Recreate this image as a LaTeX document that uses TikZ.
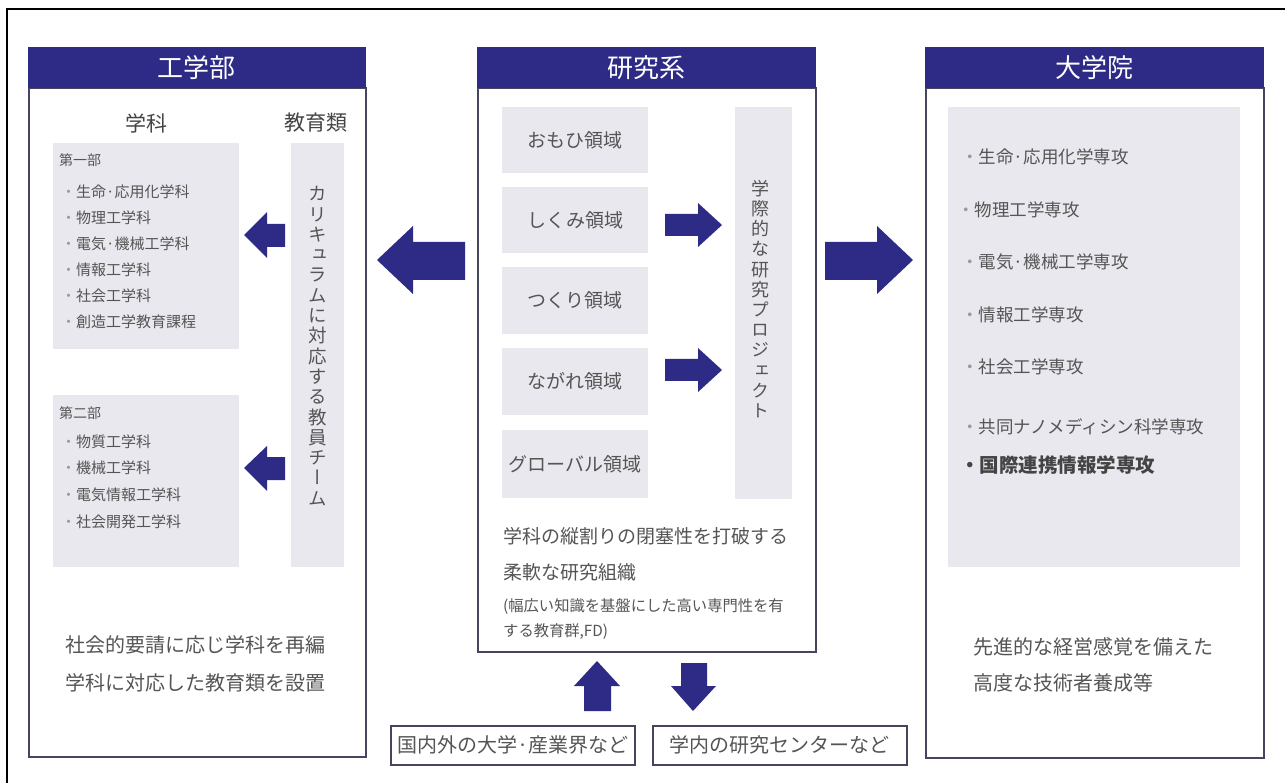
\documentclass[tikz,border=0pt]{standalone}
\usepackage{fontspec}
\setmainfont{Noto Sans CJK JP}
\newfontfamily\vjp[RawFeature=+vert]{Noto Sans CJK JP}
\definecolor{navy}{HTML}{2E2B87}
\definecolor{boxgray}{HTML}{E8E8EE}
\definecolor{txt}{HTML}{555555}
\definecolor{dtxt}{HTML}{444444}
\definecolor{bul}{HTML}{9A9A9A}
\definecolor{edge}{HTML}{45455F}
\newcommand\bl{{\color{bul}・}}
\tikzset{
  hdr/.style={fill=navy, draw=navy, text=white, font=\fontsize{26}{30}\selectfont, minimum height=40pt, anchor=north west, inner sep=0pt},
  panel/.style={draw=edge, line width=1.8pt, fill=white, anchor=north west, inner sep=0pt},
  gbox/.style={fill=boxgray, anchor=north west, inner sep=0pt},
  lab/.style={text=txt, inner sep=0pt},
  item/.style={text=txt, inner sep=0pt, anchor=west, font=\fontsize{15}{18}\selectfont},
  ritem/.style={text=txt, inner sep=0pt, anchor=west, font=\fontsize{17.5}{20}\selectfont},
  big/.style={text=txt, inner sep=0pt, font=\fontsize{20}{24}\selectfont},
  dom/.style={text=txt, inner sep=0pt, font=\fontsize{19}{22}\selectfont},
  vert/.style={text=txt, inner sep=0pt, align=center},
  blk/.style={fill=navy},
  extbox/.style={draw=edge, line width=1.6pt, fill=white, anchor=north west, inner sep=0pt, text=txt, font=\fontsize{20}{24}\selectfont}
}
\begin{document}
\begin{tikzpicture}[x=1pt, y=-1pt]
\useasboundingbox (0,0) rectangle (1285,783);
\fill[white] (0,0) rectangle (1285,783);
% outer frame (top and left only visible)
\draw[line width=2pt, black] (7,783) -- (7,9.5) -- (1285,9.5);

% ---------- left panel ----------
\node[panel, minimum width=337pt, minimum height=669pt] (pL) at (28,87) {};
\node[hdr, minimum width=337pt] (hL) at (28,47) {工学部};
\node[lab, text=dtxt, font=\fontsize{21}{24}\selectfont] (tGakka) at (146,123) {学科};
\node[lab, text=dtxt, font=\fontsize{21}{24}\selectfont] (tKyoiku) at (316,123) {教育類};
\node[gbox, minimum width=186pt, minimum height=206pt] (g1) at (53,143) {};
\node[gbox, minimum width=53pt, minimum height=424pt] (gcol) at (291,143) {};
\node[gbox, minimum width=186pt, minimum height=172pt] (g2) at (53,395) {};
\node[item, font=\fontsize{14}{16}\selectfont] (d1) at (59,160) {第一部};
\node[item] (d1a) at (61,192) {\bl 生命·応用化学科};
\node[item] (d1b) at (61,218) {\bl 物理工学科};
\node[item] (d1c) at (61,244) {\bl 電気·機械工学科};
\node[item] (d1d) at (61,270) {\bl 情報工学科};
\node[item] (d1e) at (61,296) {\bl 社会工学科};
\node[item] (d1f) at (61,322) {\bl 創造工学教育課程};
\node[item, font=\fontsize{14}{16}\selectfont] (d2) at (59,413) {第二部};
\node[item] (d2a) at (61,442) {\bl 物質工学科};
\node[item] (d2b) at (61,468) {\bl 機械工学科};
\node[item] (d2c) at (61,495) {\bl 電気情報工学科};
\node[item] (d2d) at (61,522) {\bl 社会開発工学科};
\node[vert, font=\vjp\fontsize{18.5}{20.3}\selectfont] (vcur) at (318,346) {カ\\リ\\キ\\ュ\\ラ\\ム\\に\\対\\応\\す\\る\\教\\員\\チ\\ー\\ム};
\node[big, anchor=west] (bl1) at (65,645) {社会的要請に応じ学科を再編};
\node[big, anchor=west] (bl2) at (65,683) {学科に対応した教育類を設置};
% small arrows left
\fill[blk] (244,235) -- (267,212) -- (267,224) -- (285,224) -- (285,247) -- (267,247) -- (267,258) -- cycle;
\fill[blk] (244,468) -- (267,446) -- (267,457) -- (285,457) -- (285,480) -- (267,480) -- (267,491) -- cycle;

% ---------- center panel ----------
\node[panel, minimum width=338pt, minimum height=564pt] (pC) at (477,87) {};
\node[hdr, minimum width=338pt] (hC) at (477,47) {研究系};
\node[gbox, minimum width=146pt, minimum height=66pt] (r1) at (502,107) {};
\node[gbox, minimum width=146pt, minimum height=66pt] (r2) at (502,187) {};
\node[gbox, minimum width=146pt, minimum height=67pt] (r3) at (502,267) {};
\node[gbox, minimum width=146pt, minimum height=67pt] (r4) at (502,348) {};
\node[gbox, minimum width=146pt, minimum height=68pt] (r5) at (502,430) {};
\node[gbox, minimum width=57pt, minimum height=392pt] (rcol) at (735,107) {};
\node[dom] at (r1.center) {おもひ領域};
\node[dom] at (r2.center) {しくみ領域};
\node[dom] at (r3.center) {つくり領域};
\node[dom] at (r4.center) {ながれ領域};
\node[dom] at (r5.center) {グローバル領域};
\node[vert, font=\vjp\fontsize{18}{20.2}\selectfont] (vproj) at (760,299) {学\\際\\的\\な\\研\\究\\プ\\ロ\\ジ\\ェ\\ク\\ト};
\fill[blk] (665,214) -- (698,214) -- (698,203) -- (722,225) -- (698,247) -- (698,236) -- (665,236) -- cycle;
\fill[blk] (665,359) -- (698,359) -- (698,348) -- (722,370) -- (698,392) -- (698,381) -- (665,381) -- cycle;
\node[lab, anchor=west, font=\fontsize{19}{22}\selectfont] (c1) at (503,536) {学科の縦割りの閉塞性を打破する};
\node[lab, anchor=west, font=\fontsize{19}{22}\selectfont] (c2) at (503,572) {柔軟な研究組織};
\node[lab, anchor=west, font=\fontsize{15.3}{17}\selectfont] (c3) at (503,607) {(幅広い知識を基盤にした高い専門性を有};
\node[lab, anchor=west, font=\fontsize{15.3}{17}\selectfont] (c4) at (503,632) {する教育群,FD)};

% ---------- right panel ----------
\node[panel, minimum width=338pt, minimum height=670pt] (pR) at (925,87) {};
\node[hdr, minimum width=338pt] (hR) at (925,47) {大学院};
\node[gbox, minimum width=292pt, minimum height=460pt] (gR) at (948,107) {};
\node[ritem] (m1) at (961,157) {\bl 生命·応用化学専攻};
\node[ritem] (m2) at (957,210) {\bl 物理工学専攻};
\node[ritem] (m3) at (961,262) {\bl 電気·機械工学専攻};
\node[ritem] (m4) at (961,315) {\bl 情報工学専攻};
\node[ritem] (m5) at (961,367) {\bl 社会工学専攻};
\node[ritem] (m6) at (961,427) {\bl 共同ナノメディシン科学専攻};
\node[ritem, font=\bfseries\fontsize{19.5}{22}\selectfont, text=dtxt] (m7) at (960,465) {・国際連携情報学専攻};
\node[big, anchor=west] (br1) at (973,647) {先進的な経営感覚を備えた};
\node[big, anchor=west] (br2) at (973,683) {高度な技術者養成等};

% ---------- big arrows ----------
\fill[blk] (377,260) -- (413,226) -- (413,242) -- (465,242) -- (465,280) -- (413,280) -- (413,294) -- cycle;
\fill[blk] (825,242) -- (877,242) -- (877,226) -- (913,260) -- (877,294) -- (877,280) -- (825,280) -- cycle;

% ---------- bottom ----------
\node[extbox, minimum width=244pt, minimum height=39pt] (e1) at (390,725) {国内外の大学·産業界など};
\node[extbox, minimum width=254pt, minimum height=39pt] (e2) at (652,725) {学内の研究センターなど};
\fill[blk] (597,661) -- (620,686) -- (611,686) -- (611,711) -- (584,711) -- (584,686) -- (574,686) -- cycle;
\fill[blk] (681,663) -- (707,663) -- (707,686) -- (716,686) -- (693,711) -- (671,686) -- (681,686) -- cycle;
\end{tikzpicture}
\end{document}
